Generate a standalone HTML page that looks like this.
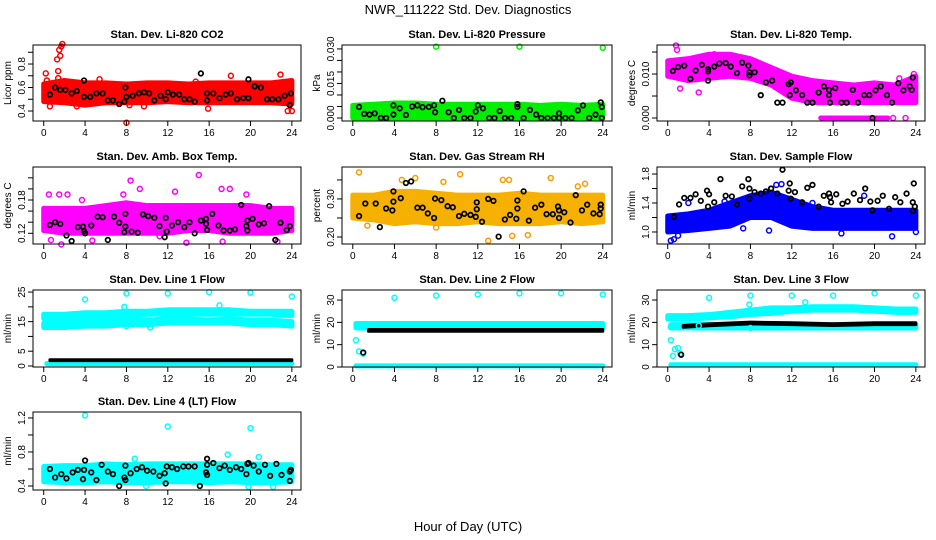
<!DOCTYPE html>
<html><head><meta charset="utf-8"><style>
body{margin:0;background:#fff}
svg{display:block;font-family:"Liberation Sans",sans-serif}
</style></head><body>
<svg id="chart" width="936" height="540" viewBox="0 0 936 540">
<text x="468" y="14" text-anchor="middle" font-size="13">NWR_111222  Std. Dev. Diagnostics</text>
<text x="468" y="531" text-anchor="middle" font-size="13">Hour of Day (UTC)</text>
</svg>
<script>
const HRS=[0,2,4,6,8,10,12,14,16,18,20,22,24];
const XTICKS=[0,4,8,12,16,20,24];
// CO2
const co2Lo=[0.48,0.47,0.45,0.47,0.47,0.47,0.48,0.47,0.47,0.47,0.47,0.47,0.46];
const co2Hi=[0.63,0.66,0.64,0.64,0.63,0.64,0.64,0.63,0.64,0.64,0.64,0.64,0.66];
const co2Out=[[0.2,0.72],[0.3,0.66],[1.3,0.84],[1.4,0.74],[1.5,0.92],[1.6,0.87],[1.7,0.95],[1.8,0.97],[1.4,0.68],[8,0.3],[0.6,0.44],[9.7,0.44],[15.9,0.42],[22.9,0.71],[23.6,0.4],[24,0.4],[18.1,0.7],[14.7,0.65],[5.4,0.67],[3.2,0.44],[8.3,0.45]];
const co2Blk=[[0.6,0.54],[1.1,0.6],[1.6,0.58],[2.1,0.58],[2.7,0.55],[3.2,0.57],[3.9,0.52],[3.9,0.66],[4.5,0.52],[5.1,0.55],[5.7,0.55],[6.2,0.49],[6.7,0.49],[7.3,0.46],[7.8,0.48],[7.9,0.6],[8,0.52],[8.6,0.53],[9.2,0.55],[9.7,0.56],[10.2,0.55],[10.7,0.49],[11.3,0.53],[11.8,0.5],[12,0.56],[12.5,0.54],[13.1,0.54],[13.6,0.5],[14.1,0.5],[14.6,0.48],[15.2,0.72],[15.8,0.55],[15.8,0.49],[16.4,0.55],[17,0.51],[17.6,0.54],[18.1,0.55],[18.7,0.5],[19.3,0.51],[19.8,0.51],[19.8,0.67],[20.4,0.61],[21,0.6],[21.6,0.5],[22.1,0.5],[22.7,0.5],[23.3,0.53],[23.8,0.45],[23.9,0.55]];
// Pressure
const prLo=[0,0,0,0,0,0,0,0,0,0,0,0,0];
const prHi=[0.0055,0.006,0.0065,0.0065,0.006,0.006,0.006,0.006,0.006,0.0055,0.006,0.0055,0.006];
const prOut=[[8,0.031],[16,0.031],[24,0.0305]];
const prBlk=[[0.6,0.0048],[1.1,0.0018],[1.6,0.0015],[2.1,0.002],[2.7,0],[3.2,0],[3.9,0.0055],[3.9,0.0015],[4.5,0.0042],[5.1,0.0013],[5.7,0.005],[6.2,0.0055],[6.7,0.0047],[7.3,0.0048],[7.8,0.0055],[7.9,0.0025],[8.6,0.0075],[9.2,0.0025],[9.7,0],[10.2,0.0035],[10.7,0],[11.3,0],[11.8,0.0028],[12,0.0055],[12.5,0.0042],[13.1,0],[13.6,0],[14.1,0.003],[14.6,0],[15.2,0],[15.8,0.006],[15.8,0.0048],[16.4,0],[17,0.0035],[17.6,0.0015],[18.1,0],[18.7,0],[19.3,0],[19.8,0.002],[19.8,0],[20.4,0],[21,0],[21.6,0.0033],[22.1,0.0055],[22.7,0],[23.3,0.0015],[23.8,0.0068],[23.9,0.0048],[23.9,0]];
// Li-820 temp
const tmLo=[0.0095,0.0085,0.009,0.0095,0.009,0.0075,0.0045,0.0035,0.0035,0.0035,0.0035,0.0035,0.0035];
const tmHi=[0.013,0.0135,0.0145,0.0145,0.0135,0.0115,0.0095,0.0085,0.008,0.0075,0.008,0.0075,0.0095];
const tmZeroX=[14.8,21.3];
const tmZeroV=[0,0];
const tmOut=[[0.8,0.0165],[0.9,0.0155],[4.5,0.0145],[1.2,0.0067],[3,0.0058],[22.4,0.009],[23.8,0.01],[23,0],[21.8,0]];
const tmBlk=[[0.5,0.0107],[1,0.0116],[1.6,0.0119],[2.2,0.0089],[2.7,0.0108],[3.3,0.0121],[3.9,0.0111],[3.9,0.0085],[3.9,0.0106],[4.5,0.0117],[5,0.0124],[5.6,0.0125],[6.1,0.0117],[6.7,0.0102],[7.2,0.0126],[7.8,0.0119],[7.9,0.0104],[7.9,0.0097],[8.4,0.0104],[9,0.0052],[9.5,0.0081],[10.1,0.0085],[10.6,0.0035],[11.1,0.0035],[11.7,0.0077],[11.8,0.0052],[11.9,0.0081],[12.4,0.0063],[13,0.0052],[13.5,0.0035],[14,0.0035],[14.6,0.0058],[15.1,0.0072],[15.6,0.0064],[15.6,0.0052],[15.7,0.0035],[16.2,0.0068],[16.8,0.0035],[17.3,0.0035],[17.9,0.0064],[18.4,0.0035],[19,0.0052],[19.5,0.0052],[19.8,0],[20.1,0.0063],[20.6,0.0072],[21.2,0.0052],[21.7,0.0035],[22.3,0.0079],[22.8,0.0063],[23.4,0.0072],[23.6,0.0064],[23.7,0.0092]];
// Amb box temp
const abLo=[0.125,0.12,0.12,0.12,0.12,0.12,0.12,0.125,0.125,0.12,0.12,0.12,0.125];
const abHi=[0.165,0.165,0.165,0.17,0.175,0.17,0.17,0.17,0.17,0.17,0.17,0.165,0.165];
const abOut=[[0.5,0.19],[1.5,0.19],[2.3,0.19],[1.7,0.1],[0.7,0.108],[8.4,0.215],[9.3,0.2],[15,0.225],[12.7,0.195],[17.2,0.2],[18,0.2],[19.6,0.19],[13.8,0.103],[17.3,0.105],[22.6,0.105],[4.7,0.107],[3.7,0.18],[7.7,0.19],[11.2,0.115]];
const abBlk=[[0.6,0.135],[1.1,0.14],[1.6,0.137],[2.2,0.116],[2.7,0.106],[3.3,0.131],[3.8,0.132],[3.9,0.124],[4,0.12],[4.6,0.134],[5.2,0.15],[5.7,0.149],[6.2,0.108],[6.8,0.15],[7.3,0.139],[7.8,0.122],[7.9,0.132],[7.9,0.155],[8.5,0.123],[9.1,0.121],[9.6,0.154],[10.1,0.151],[10.7,0.148],[11.2,0.133],[11.7,0.113],[11.8,0.148],[11.9,0.123],[12.4,0.134],[13,0.14],[13.6,0.131],[14.1,0.14],[14.6,0.12],[15.2,0.143],[15.7,0.146],[15.7,0.137],[15.8,0.126],[16.3,0.155],[16.9,0.134],[17.4,0.125],[18,0.125],[18.5,0.127],[19.1,0.171],[19.6,0.133],[19.7,0.143],[19.7,0.125],[20.2,0.146],[20.8,0.136],[21.3,0.138],[21.8,0.169],[22.4,0.108],[22.9,0.139],[23.5,0.126],[23.8,0.133]];
// RH
const rhLo=[0.25,0.245,0.235,0.24,0.235,0.235,0.24,0.235,0.235,0.235,0.24,0.235,0.24];
const rhHi=[0.31,0.31,0.32,0.32,0.315,0.31,0.31,0.31,0.315,0.31,0.31,0.31,0.31];
const rhOut=[[0.6,0.37],[1.4,0.23],[4.7,0.35],[6,0.355],[8.7,0.345],[10.3,0.365],[13,0.19],[14.4,0.35],[15,0.35],[15.3,0.203],[16.8,0.205],[19,0.355],[22.3,0.34],[8,0.225],[21.6,0.333]];
const rhBlk=[[0.6,0.255],[1.2,0.288],[2.2,0.288],[2.6,0.226],[3.2,0.275],[3.8,0.27],[3.9,0.293],[3.9,0.32],[4.6,0.302],[5.1,0.342],[5.6,0.346],[6.2,0.277],[6.7,0.277],[7.2,0.262],[7.8,0.25],[7.9,0.301],[8.5,0.297],[9.1,0.281],[9.6,0.278],[10.2,0.255],[10.7,0.261],[11.3,0.258],[11.8,0.253],[11.9,0.273],[11.9,0.291],[12.4,0.24],[13,0.3],[13.5,0.295],[14,0.201],[14.6,0.246],[15.1,0.258],[15.7,0.248],[15.8,0.275],[15.8,0.296],[16.4,0.32],[16.9,0.243],[17.5,0.277],[18.1,0.285],[18.6,0.26],[19.2,0.26],[19.7,0.28],[19.8,0.25],[19.8,0.27],[20.3,0.265],[20.9,0.238],[21.4,0.31],[22,0.27],[22.5,0.285],[23.1,0.262],[23.7,0.26],[23.8,0.285],[23.8,0.275]];
// Sample flow
const sfLo=[1.0,1.02,1.05,1.08,1.2,1.2,1.08,1.05,1.05,1.05,1.05,1.05,1.05];
const sfHi=[1.22,1.25,1.3,1.4,1.5,1.55,1.45,1.35,1.3,1.3,1.3,1.3,1.3];
const sfOut=[[0.3,0.88],[0.6,0.9],[1,0.95],[2,1.4],[5.5,1.42],[7.3,1.05],[9.8,1.02],[10.5,1.65],[11,1.66],[14,1.4],[21.7,0.94],[24,1],[16.8,0.98],[19,1.5]];
const sfBlk=[[0.6,1.21],[1.1,1.38],[1.6,1.47],[2.2,1.47],[2.7,1.52],[3.2,1.43],[3.8,1.57],[3.9,1.35],[4,1.52],[4.5,1.41],[5.1,1.73],[5.6,1.5],[6.2,1.49],[6.7,1.38],[7.2,1.63],[7.8,1.73],[7.9,1.46],[7.9,1.6],[8.4,1.55],[9,1.53],[9.5,1.56],[10,1.6],[10.6,1.53],[11.1,1.86],[11.7,1.57],[11.8,1.67],[11.9,1.46],[12.3,1.55],[13,1.41],[13.5,1.61],[14,1.65],[14.6,1.35],[15.1,1.5],[15.6,1.53],[15.7,1.48],[15.8,1.41],[16.3,1.52],[16.9,1.39],[17.4,1.42],[18,1.53],[18.6,1.44],[19.1,1.6],[19.6,1.42],[19.8,1.3],[20.3,1.43],[20.8,1.5],[21.4,1.32],[22,1.48],[22.5,1.41],[23.1,1.53],[23.7,1.29],[23.7,1.41],[23.8,1.67],[23.9,1.35]];
// Line 1
const l1UpLo=[16,15.5,16,16,17,17.5,17.5,17.5,17.5,17.5,17.5,17.5,17];
const l1UpHi=[17.5,17.5,18,18,18.5,18.5,19,19,19,19,18.5,18.5,18.5];
const l1LwLo=[13,13,13.5,13.5,14,14,14.5,14.5,14.5,14.5,14,14,13.5];
const l1LwHi=[14.5,14.5,15,15,15.5,15.5,16,16,15.5,16,15.5,15.5,15];
const SPANX=[0.3,24];
const l1Base=[0.8,0.8];
const l1BlkX=[0.6,24];
const l1BlkLo=[1.8,1.8];
const l1BlkHi=[2.1,2.1];
const l1Out=[[4,22.5],[8,24.5],[12,24.5],[16,25],[20,24.8],[24,23.5],[7.8,20],[17,20.5],[7.5,17],[8,13.5],[10.3,13]];
// Line 2
const l2Lo=[17.5,17.5];
const l2Hi=[19.5,19.5];
const l2BlkX=[1.5,24];
const l2BlkLo=[16,16];
const l2BlkHi=[16.8,16.8];
const l2Base=[0.5,0.5];
const l2Out=[[0.3,12],[0.6,7],[1,6],[4,31],[8,32],[12,32.5],[16,33],[20,33],[24,32.5]];
const l2BlkOut=[[1,6.5]];
// Line 3
const l3UpLo=[21.5,21.5,22,22.5,23.5,24,25,25.5,25.5,25.5,25,24.5,24.5];
const l3UpHi=[23,23,23.5,24.5,25.5,26.5,26.5,27,27,27,26.5,26,26];
const l3BlkX=[1.5,4,8,12,16,20,24];
const l3BlkLo=[17.8,18.5,19.3,19,18.6,19,19];
const l3BlkHi=[18.6,19.3,20.1,19.8,19.4,19.8,19.8];
const l3MidLo=[17.5,17.5];
const l3MidHi=[19,19];
const l3Base=[1,1];
const l3Out=[[0.3,12],[0.5,5],[0.7,8],[1,8.5],[1.2,6],[4,31],[8,32],[12,32],[16,32],[20,33],[24,32],[7.9,28],[8,17.5],[13.3,29],[3,18.5],[0.3,18]];
const l3BlkOut=[[1.3,5.5]];
// Line 4
const l4Lo=[0.45,0.44,0.44,0.45,0.44,0.44,0.45,0.45,0.44,0.45,0.44,0.44,0.45];
const l4Hi=[0.63,0.64,0.64,0.66,0.65,0.66,0.66,0.66,0.66,0.66,0.66,0.65,0.65];
const l4Out=[[4,1.23],[12,1.1],[20,1.08],[17.8,0.77],[20.8,0.74],[19.8,0.39],[22.2,0.39],[8.8,0.72],[9.9,0.4],[15.3,0.45]];
const l4Blk=[[0.6,0.6],[1.1,0.5],[1.7,0.54],[2.2,0.49],[2.8,0.56],[3.3,0.59],[3.8,0.48],[3.9,0.59],[4,0.7],[4.6,0.56],[5.1,0.47],[5.6,0.65],[6.2,0.57],[6.7,0.54],[7.3,0.4],[7.8,0.5],[7.9,0.47],[7.9,0.64],[8.4,0.55],[9,0.6],[9.5,0.62],[10,0.58],[10.6,0.57],[11.2,0.52],[11.7,0.55],[11.8,0.43],[11.9,0.63],[12.4,0.62],[12.9,0.6],[13.5,0.63],[14,0.63],[14.6,0.63],[15.1,0.4],[15.7,0.56],[15.8,0.53],[15.8,0.72],[15.8,0.65],[16.4,0.67],[17,0.61],[17.5,0.64],[18,0.59],[18.6,0.62],[19.1,0.6],[19.6,0.54],[19.7,0.66],[19.8,0.67],[20.3,0.64],[20.8,0.57],[21.4,0.65],[21.9,0.52],[22.5,0.66],[23,0.53],[23.8,0.57],[23.8,0.46],[23.9,0.59]];

const NS='http://www.w3.org/2000/svg';
const svg=document.getElementById('chart');
function mk(tag,attrs,parent){const e=document.createElementNS(NS,tag);for(const k in attrs)e.setAttribute(k,attrs[k]);(parent||svg).appendChild(e);return e;}
const COLS=[[33,301],[342,612],[657,925]];
const ROWS=[[45,121],[167,244],[290,367],[412,490]];

const panels=[
 {id:'co2',title:'Stan. Dev. Li-820 CO2',ylab:'Licor ppm',c:0,r:0,dom:[0.315,0.962],ticks:[0.4,0.5,0.6,0.7,0.8,0.9],labs:[[0.4,'0.4'],[0.6,'0.6'],[0.8,'0.8']],col:'#ff0000',
  bands:[[HRS,co2Lo,co2Hi,'#ff0000']],out:co2Out,blk:co2Blk},
 {id:'pressure',title:'Stan. Dev. Li-820 Pressure',ylab:'kPa',c:1,r:0,dom:[-0.0013,0.0317],ticks:[0,0.005,0.01,0.015,0.02,0.025,0.03],labs:[[0,'0.000'],[0.015,'0.015'],[0.03,'0.030']],col:'#00ee00',
  bands:[[HRS,prLo,prHi,'#00ee00']],out:prOut,blk:prBlk},
 {id:'li820-temp',title:'Stan. Dev. Li-820 Temp.',ylab:'degrees C',c:2,r:0,dom:[-0.00068,0.0166],ticks:[0,0.005,0.01,0.015],labs:[[0,'0.000'],[0.01,'0.010']],col:'#ff00ff',
  bands:[[HRS,tmLo,tmHi,'#ff00ff'],[tmZeroX,tmZeroV,tmZeroV,'#ff00ff']],out:tmOut,blk:tmBlk},
 {id:'amb-box-temp',title:'Stan. Dev. Amb. Box Temp.',ylab:'degrees C',c:0,r:1,dom:[0.1007,0.2395],ticks:[0.12,0.14,0.16,0.18,0.2,0.22],labs:[[0.12,'0.12'],[0.18,'0.18']],col:'#ff00ff',
  bands:[[HRS,abLo,abHi,'#ff00ff']],out:abOut,blk:abBlk},
 {id:'gas-rh',title:'Stan. Dev. Gas Stream RH',ylab:'percent',c:1,r:1,dom:[0.1816,0.384],ticks:[0.2,0.25,0.3,0.35],labs:[[0.2,'0.20'],[0.3,'0.30']],col:'#ff9900',
  bands:[[HRS,rhLo,rhHi,'#f5b000']],out:rhOut,blk:rhBlk},
 {id:'sample-flow',title:'Stan. Dev. Sample Flow',ylab:'ml/min',c:2,r:1,dom:[0.834,1.897],ticks:[1.0,1.2,1.4,1.6,1.8],labs:[[1.0,'1.0'],[1.4,'1.4'],[1.8,'1.8']],col:'#0000ff',
  bands:[[HRS,sfLo,sfHi,'#0000ff']],out:sfOut,blk:sfBlk},
 {id:'line1-flow',title:'Stan. Dev. Line 1 Flow',ylab:'ml/min',c:0,r:2,dom:[-0.34,25.7],ticks:[0,5,10,15,20,25],labs:[[0,'0'],[5,'5'],[15,'15'],[25,'25']],col:'#00ffff',
  bands:[[HRS,l1UpLo,l1UpHi,'#00ffff'],[HRS,l1LwLo,l1LwHi,'#00ffff'],[SPANX,l1Base,l1Base,'#00ffff'],[l1BlkX,l1BlkLo,l1BlkHi,'#000000']],out:l1Out,blk:[]},
 {id:'line2-flow',title:'Stan. Dev. Line 2 Flow',ylab:'ml/min',c:1,r:2,dom:[0,34.5],ticks:[0,10,20,30],labs:[[0,'0'],[10,'10'],[20,'20'],[30,'30']],col:'#00ffff',
  bands:[[SPANX,l2Lo,l2Hi,'#00ffff'],[SPANX,l2Base,l2Base,'#00ffff'],[l2BlkX,l2BlkLo,l2BlkHi,'#000000']],out:l2Out,blk:l2BlkOut},
 {id:'line3-flow',title:'Stan. Dev. Line 3 Flow',ylab:'ml/min',c:2,r:2,dom:[0,34.5],ticks:[0,10,20,30],labs:[[0,'0'],[10,'10'],[20,'20'],[30,'30']],col:'#00ffff',
  bands:[[HRS,l3UpLo,l3UpHi,'#00ffff'],[SPANX,l3MidLo,l3MidHi,'#00ffff'],[SPANX,l3Base,l3Base,'#00ffff'],[l3BlkX,l3BlkLo,l3BlkHi,'#000000']],out:l3Out,blk:l3BlkOut},
 {id:'line4-flow',title:'Stan. Dev. Line 4 (LT) Flow',ylab:'ml/min',c:0,r:3,dom:[0.353,1.27],ticks:[0.4,0.6,0.8,1.0,1.2],labs:[[0.4,'0.4'],[0.8,'0.8'],[1.2,'1.2']],col:'#00ffff',
  bands:[[HRS,l4Lo,l4Hi,'#00ffff']],out:l4Out,blk:l4Blk}
];

panels.forEach(p=>{
  const [L,R]=COLS[p.c],[T,B]=ROWS[p.r],W=R-L;
  const xs=v=>L+W*(0.04+v/24/1.08);
  const ys=v=>B-(v-p.dom[0])/(p.dom[1]-p.dom[0])*(B-T);
  const g=mk('g',{});
  
  
  const t=mk('text',{x:(L+R)/2,y:T-7,'text-anchor':'middle','font-size':11,'font-weight':'bold'},g);
  t.textContent=p.title;
  
  
  const yl=mk('text',{x:0,y:0,'text-anchor':'middle','font-size':10,transform:`translate(${L-22},${(T+B)/2}) rotate(-90)`},g);
  yl.textContent=p.ylab;
  
  
  const marks=mk('g',{},g);
  
  
  p.bands.forEach(b=>{
    const [bx,lo,hi,col]=b;
    const isBlk=col==='#000000';
    let pts=bx.map((x,i)=>xs(x)+','+ys(hi[i]));
    pts=pts.concat(bx.map((x,i)=>xs(x)+','+ys(lo[i])).reverse());
    const pg=mk('polygon',{points:pts.join(' '),fill:col,stroke:col,'stroke-width':isBlk?3:5,'stroke-linejoin':'round'},marks);
    
    
  });
  p.out.forEach(d=>{
    const c=mk('circle',{cx:xs(d[0]),cy:ys(d[1]),r:2.5,fill:'none',stroke:p.col,'stroke-width':1.5},marks);
    
    
  });
  p.blk.forEach(d=>{
    const c=mk('circle',{cx:xs(d[0]),cy:ys(d[1]),r:2.3,fill:'none',stroke:'#000','stroke-width':1.7},marks);
    
    
  });
  const box=mk('rect',{x:L,y:T,width:W,height:B-T,fill:'none',stroke:'#000','stroke-width':1},g);
  
  
  const ax=mk('g',{},g);
  
  
  mk('line',{x1:xs(0),x2:xs(24),y1:B,y2:B,stroke:'#000'},ax);
  XTICKS.forEach(v=>{
    mk('line',{x1:xs(v),x2:xs(v),y1:B,y2:B+5,stroke:'#000'},ax);
    const tx=mk('text',{x:xs(v),y:B+15,'text-anchor':'middle','font-size':10},ax);
    tx.textContent=String(v);
    
    
  });
  mk('line',{x1:L,x2:L,y1:ys(p.ticks[0]),y2:ys(p.ticks[p.ticks.length-1]),stroke:'#000'},ax);
  p.ticks.forEach(v=>mk('line',{x1:L-5,x2:L,y1:ys(v),y2:ys(v),stroke:'#000'},ax));
  p.labs.forEach(l=>{
    const tx=mk('text',{x:0,y:0,'text-anchor':'middle','font-size':10,transform:`translate(${L-8},${ys(l[0])}) rotate(-90)`},ax);
    tx.textContent=l[1];
    
    
  });
});
</script>
</body></html>
